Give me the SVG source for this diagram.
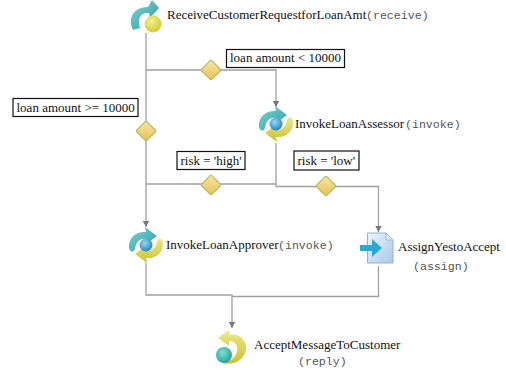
<svg xmlns="http://www.w3.org/2000/svg" width="506" height="370" viewBox="0 0 506 370">
<style>
.s{font-family:"Liberation Serif","Times New Roman",serif;font-size:13px;fill:#111}
.m{font-family:"Liberation Mono","Courier New",monospace;font-size:11.600px;fill:#555}
.c{fill:none;stroke:#a0a0a0;stroke-width:1.3}
.l{fill:#fff;stroke:#111;stroke-width:1.2}
.d{fill:url(#gd);stroke:#a9bf5c;stroke-width:1.6}
</style>
<defs>
<linearGradient id="gd" x1="0" y1="0" x2="1" y2="1"><stop offset="0" stop-color="#f8e6a8"/><stop offset="1" stop-color="#eebd55"/></linearGradient>
<linearGradient id="gt" x1="0" y1="0" x2="1" y2="1"><stop offset="0" stop-color="#7fd2d0"/><stop offset="1" stop-color="#2a9fa6"/></linearGradient>
<linearGradient id="gy" x1="0" y1="0" x2="0" y2="1"><stop offset="0" stop-color="#eee98a"/><stop offset="1" stop-color="#c9c234"/></linearGradient>
<radialGradient id="gb" cx=".4" cy=".35" r=".7"><stop offset="0" stop-color="#9bd6f2"/><stop offset="1" stop-color="#1f7fc0"/></radialGradient>
<radialGradient id="gc" cx=".4" cy=".35" r=".7"><stop offset="0" stop-color="#f5f08a"/><stop offset="1" stop-color="#cfc92e"/></radialGradient>
<radialGradient id="gg" cx=".4" cy=".35" r=".7"><stop offset="0" stop-color="#7fe0cf"/><stop offset="1" stop-color="#1f9f98"/></radialGradient>
<linearGradient id="gp" x1="0" y1="0" x2="1" y2="1"><stop offset="0" stop-color="#eef5fc"/><stop offset="1" stop-color="#a9c8ea"/></linearGradient>
<marker id="a" markerWidth="8" markerHeight="7" refX="6.500" refY="3.500" orient="auto" markerUnits="userSpaceOnUse"><path d="M0 0L6.500 3.500L0 7z" fill="#777"/></marker>
<g id="inv">
<path d="M-17 3C-18-9-8-14 0-13L-1-18L11-9L-1 0L0-6C-6-7-10-3-11 4C-13 8-16 7-17 3Z" fill="url(#gt)"/>
<path d="M17-3C18 9 8 14 0 13L1 18L-11 9L1 0L0 6C6 7 10 3 11-4C13-8 16-7 17-3Z" fill="url(#gy)"/>
<circle r="6.500" fill="url(#gb)"/>
</g>
</defs>
<g id="connectors">
<path class="c" d="M146 33V227" marker-end="url(#a)"/>
<path class="c" d="M146 70H276V107" marker-end="url(#a)"/>
<path class="c" d="M276 143V186.500H378.500V232" marker-end="url(#a)"/>
<path class="c" d="M146 184H276"/>
<path class="c" d="M146 263V295H232V328" marker-end="url(#a)"/>
<path class="c" d="M378.500 266V296.500H232"/>
</g>
<g id="receive">
<path d="M133 30C127 18 134 7 148 7L152 0L159 8L150 18L149 13C141 12 137 18 140 28Z" fill="url(#gt)"/>
<circle cx="153" cy="24" r="8.500" fill="url(#gc)"/>
<text class="s" x="167" y="19">ReceiveCustomerRequestforLoanAmt</text><text class="m" x="366" y="19">(receive)</text>
</g>
<g id="g1"><rect x="-10" y="-10" width="20" height="20" rx="2" class="d" transform="translate(211 70) rotate(45) scale(.72)"/></g>
<g id="label1"><rect class="l" x="226.500" y="49.500" width="118" height="18"/><text class="s" x="230" y="62">loan amount &lt; 10000</text></g>
<g id="label2"><rect class="l" x="13" y="98.500" width="125" height="18"/><text class="s" x="16.500" y="112">loan amount &gt;= 10000</text></g>
<g id="g2"><rect x="-10" y="-10" width="20" height="20" rx="2" class="d" transform="translate(146 131) rotate(45) scale(.72)"/></g>
<g id="assessor"><use href="#inv" x="276" y="124"/><text class="s" x="295" y="128">InvokeLoanAssessor</text><text class="m" x="405" y="128">(invoke)</text></g>
<g id="label3"><rect class="l" x="177" y="151.500" width="68" height="18"/><text class="s" x="180.500" y="165">risk = 'high'</text></g>
<g id="label4"><rect class="l" x="294" y="151" width="65" height="19"/><text class="s" x="297.500" y="165">risk = 'low'</text></g>
<g id="g3"><rect x="-10" y="-10" width="20" height="20" rx="2" class="d" transform="translate(211 185) rotate(45) scale(.72)"/></g>
<g id="g4"><rect x="-10" y="-10" width="20" height="20" rx="2" class="d" transform="translate(326 186) rotate(45) scale(.72)"/></g>
<g id="approver"><use href="#inv" x="146" y="245"/><text class="s" x="166" y="249">InvokeLoanApprover</text><text class="m" x="278" y="249">(invoke)</text></g>
<g id="assign">
<path d="M367.500 233H386L393 240V263H367.500Z" fill="url(#gp)" stroke="#8fb2dc" stroke-width="1"/>
<path d="M386 233V240H393Z" fill="#dfeaf7" stroke="#8fb2dc" stroke-width=".8"/>
<path d="M360 245H372V239L382 248L372 257V251H360Z" fill="#2aa9d2"/>
<text class="s" x="398" y="251">AssignYestoAccept</text><text class="m" x="413" y="270">(assign)</text>
</g>
<g id="reply">
<path d="M229 330L218 338L229 346V341C237 341 240 349 235 356C232 360 227 363 222 363C233 366 245 360 246 349C247 339 238 333 229 335Z" fill="url(#gy)"/>
<circle cx="224" cy="355" r="8" fill="url(#gg)"/>
<text class="s" x="254" y="349">AcceptMessageToCustomer</text><text class="m" x="298" y="365">(reply)</text>
</g>
</svg>
